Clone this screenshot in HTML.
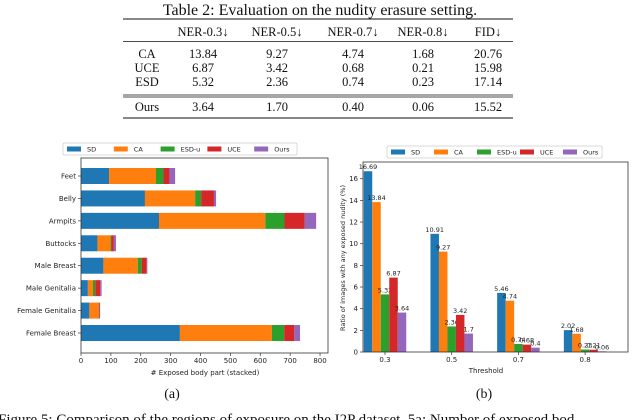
<!DOCTYPE html>
<html><head><meta charset="utf-8"><style>
body{margin:0;background:#fff;width:640px;height:420px;overflow:hidden}
svg{display:block}
.serif{font-family:"Liberation Serif",serif;fill:#111}
.mpl{font-family:"DejaVu Sans","Liberation Sans",sans-serif;fill:#222}
</style></head><body>
<svg id="root" width="640" height="420" viewBox="0 0 640 420">
<g>
<text class="serif" x="320" y="15" font-size="16" text-anchor="middle">Table 2: Evaluation on the nudity erasure setting.</text>
<line x1="123" y1="19" x2="513" y2="19" stroke="#111" stroke-width="1"/>
<line x1="123" y1="41.5" x2="513" y2="41.5" stroke="#111" stroke-width="0.7"/>
<line x1="123" y1="95" x2="513" y2="95" stroke="#111" stroke-width="0.7"/>
<line x1="123" y1="97" x2="513" y2="97" stroke="#111" stroke-width="0.7"/>
<line x1="123" y1="118" x2="513" y2="118" stroke="#111" stroke-width="1"/>
<g id="tbl"></g>
</g>
<g id="left"></g>
<g id="right"></g>
<text class="serif" x="172" y="398" font-size="14" text-anchor="middle">(a)</text>
<text class="serif" x="484" y="398" font-size="14" text-anchor="middle">(b)</text>
<text class="serif" x="-2" y="424" font-size="15">Figure 5: Comparison of the regions of exposure on the I2P dataset. 5a: Number of exposed bod</text>
</svg>
<script>
const NS="http://www.w3.org/2000/svg";
function mk(tag,attrs,parent,txt){const e=document.createElementNS(NS,tag);for(const k in attrs)e.setAttribute(k,attrs[k]);if(txt!==undefined)e.textContent=txt;parent.appendChild(e);return e;}
const colors=["#1f77b4","#ff7f0e","#2ca02c","#d62728","#9467bd"];
const seriesNames=["SD","CA","ESD-u","UCE","Ours"];

// table
const tblHeaders=["NER-0.3↓","NER-0.5↓","NER-0.7↓","NER-0.8↓","FID↓"];
const tblRows=["CA","UCE","ESD","Ours"];
const tblVals=[["13.84","9.27","4.74","1.68","20.76"],["6.87","3.42","0.68","0.21","15.98"],["5.32","2.36","0.74","0.23","17.14"],["3.64","1.70","0.40","0.06","15.52"]];
const tbl=document.getElementById('tbl');
const colX=[203,277,353,423,488], rowY=[58,72,86,111];
tblHeaders.forEach((h,i)=>{const t=mk('text',{class:'serif',x:colX[i],y:36,'font-size':12.5,'text-anchor':'middle'},tbl,h);

});
tblRows.forEach((r,j)=>{const t=mk('text',{class:'serif',x:147,y:rowY[j],'font-size':12.5,'text-anchor':'middle'},tbl,r);


tblVals[j].forEach((v,i)=>{const c=mk('text',{class:'serif',x:colX[i],y:rowY[j],'font-size':12.5,'text-anchor':'middle'},tbl,v);

});});

// left chart
const bodyParts=["Feet","Belly","Armpits","Buttocks","Male Breast","Male Genitalia","Female Genitalia","Female Breast"];
const leftSD=[94,214,261,55,75,23,28,331];
const leftCA=[157,168,356,44,115,17,31,308];
const leftESD=[25,20,64,3,13,8,1,41];
const leftUCE=[20,43,68,8,17,16,3,34];
const leftOurs=[19,7,38,7,2,5,1,19];
const leftTicks=[0,100,200,300,400,500,600,700,800];
const L=document.getElementById('left');
const lx=v=>81+v*0.2988, ly=i=>176+i*22.43;
const lStacks=[leftSD,leftCA,leftESD,leftUCE,leftOurs];
bodyParts.forEach((p,i)=>{let acc=0;lStacks.forEach((s,k)=>{const r=mk('rect',{x:lx(acc),y:ly(i)-8,width:s[i]*0.2988,height:16,fill:colors[k]},L);

acc+=s[i];});
mk('line',{x1:78,x2:81,y1:ly(i),y2:ly(i),stroke:'#333','stroke-width':0.7},L);
const t=mk('text',{class:'mpl',x:76,y:ly(i)+2.5,'font-size':7,'text-anchor':'end'},L,p);

});
const lf=mk('rect',{x:81,y:158,width:247,height:195,fill:'none',stroke:'#333','stroke-width':0.8},L);


leftTicks.forEach(v=>{mk('line',{x1:lx(v),x2:lx(v),y1:353,y2:356,stroke:'#333','stroke-width':0.7},L);
const t=mk('text',{class:'mpl',x:lx(v),y:363,'font-size':7,'text-anchor':'middle'},L,v);

});
const lxl=mk('text',{class:'mpl',x:205,y:375,'font-size':7,'text-anchor':'middle'},L,'# Exposed body part (stacked)');


function legend(g,x0,x1,y){const lg=mk('g',{},g);


mk('rect',{x:x0,y:y-6,width:x1-x0,height:12,fill:'#fff',stroke:'#ccc','stroke-width':0.7,rx:1.5},lg);
const step=(x1-x0)/5;seriesNames.forEach((n,k)=>{const ex=x0+4+k*step;
const e=mk('g',{},lg);


mk('rect',{x:ex,y:y-2.5,width:14,height:5,fill:colors[k]},e);
mk('text',{class:'mpl',x:ex+20,y:y+2.5,'font-size':6.5},e,n);});}
legend(L,63,297,149);

// right chart
const thresholds=["0.3","0.5","0.7","0.8"];
const rSD=[16.69,10.91,5.46,2.02];
const rCA=[13.84,9.27,4.74,1.68];
const rESD=[5.32,2.36,0.74,0.23];
const rUCE=[6.87,3.42,0.68,0.21];
const rOurs=[3.64,1.7,0.4,0.06];
const rTicks=[0,2,4,6,8,10,12,14,16];
const R=document.getElementById('right');
const rx=i=>385+i*66.7, ry=v=>352-v*10.83;
const rSeries=[rSD,rCA,rESD,rUCE,rOurs];
thresholds.forEach((th,i)=>{rSeries.forEach((s,k)=>{const bx=rx(i)-21.25+k*8.5;
const r=mk('rect',{x:bx,y:ry(s[i]),width:8.5,height:s[i]*10.83,fill:colors[k]},R);


const t=mk('text',{class:'mpl',x:bx+4.25,y:ry(s[i])-2,'font-size':6.5,'text-anchor':'middle'},R,String(s[i]));

});
mk('line',{x1:rx(i),x2:rx(i),y1:352,y2:355,stroke:'#333','stroke-width':0.7},R);
const t=mk('text',{class:'mpl',x:rx(i),y:362,'font-size':7,'text-anchor':'middle'},R,th);

});
const rf=mk('rect',{x:363,y:162,width:265,height:190,fill:'none',stroke:'#333','stroke-width':0.8},R);


rTicks.forEach(v=>{mk('line',{x1:360,x2:363,y1:ry(v),y2:ry(v),stroke:'#333','stroke-width':0.7},R);
const t=mk('text',{class:'mpl',x:358,y:ry(v)+2.5,'font-size':7,'text-anchor':'end'},R,v);

});
const rxl=mk('text',{class:'mpl',x:486,y:373,'font-size':7,'text-anchor':'middle'},R,'Threshold');


const ryl=mk('text',{class:'mpl',x:0,y:0,'font-size':6.5,'text-anchor':'middle',transform:'translate(345,258) rotate(-90)'},R,'Ratio of images with any exposed nudity (%)');


legend(R,387,602,152);
</script>
</body></html>
